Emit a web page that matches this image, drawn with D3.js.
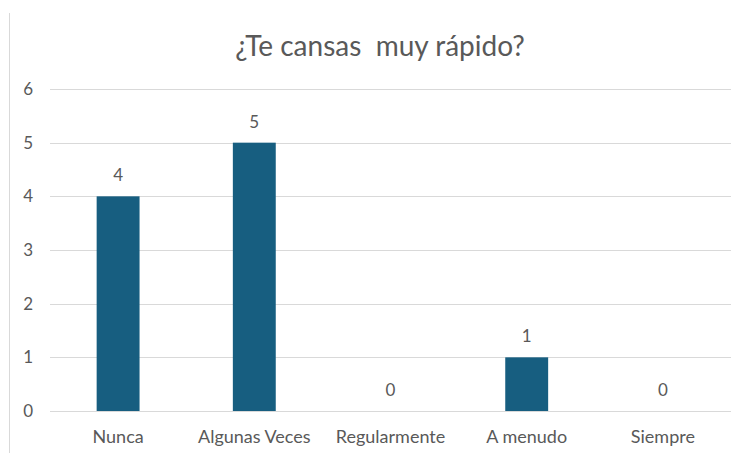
<!DOCTYPE html>
<html>
<head>
<meta charset="utf-8">
<script src="https://cdn.jsdelivr.net/npm/d3@7"></script>
<style>
  body { margin: 0; background: #fff; }
  text { font-family: Lato, "Open Sans", sans-serif; fill: #595959; }
</style>
</head>
<body>
<svg width="744" height="453"></svg>
<script>
var categories = ["Nunca", "Algunas Veces", "Regularmente", "A menudo", "Siempre"];
var values = [4, 5, 0, 1, 0];
var yTicks = [0, 1, 2, 3, 4, 5, 6];
var title = "¿Te cansas  muy rápido?";

var svg = d3.select("svg");

// chart border (only left edge visible in the picture)
svg.append("line")
    .attr("x1", 9.5).attr("x2", 9.5)
    .attr("y1", 13).attr("y2", 453)
    .attr("stroke", "#d9d9d9").attr("stroke-width", 1);

var plotLeft = 50, plotRight = 731, plotTop = 89, plotBottom = 411;

var x = d3.scaleBand().domain(categories).range([plotLeft, plotRight]).paddingInner(0.685).paddingOuter(0.3425);
var y = d3.scaleLinear().domain([0, 6]).range([plotBottom, plotTop]);

svg.append("text")
    .attr("x", 380).attr("y", 56)
    .attr("text-anchor", "middle")
    .attr("font-size", "28px")
    .style("white-space", "pre")
    .text(title);

// gridlines
svg.selectAll(".grid").data(yTicks).enter().append("line")
    .attr("class", "grid")
    .attr("x1", plotLeft).attr("x2", plotRight)
    .attr("y1", function(d){ return Math.round(y(d)) + 0.5; })
    .attr("y2", function(d){ return Math.round(y(d)) + 0.5; })
    .attr("stroke", "#d9d9d9");

// y tick labels
svg.selectAll(".ylab").data(yTicks).enter().append("text")
    .attr("class", "ylab")
    .attr("x", 33).attr("y", function(d){ return y(d); })
    .attr("dy", "0.36em")
    .attr("text-anchor", "end")
    .attr("font-size", "17px")
    .text(function(d){ return d; });

// bars
svg.selectAll(".bar").data(values).enter().append("rect")
    .attr("class", "bar")
    .attr("x", function(d, i){ return x(categories[i]); })
    .attr("y", function(d){ return y(d); })
    .attr("width", x.bandwidth())
    .attr("height", function(d){ return plotBottom - y(d); })
    .attr("fill", "#175e80");

// data labels
svg.selectAll(".vlab").data(values).enter().append("text")
    .attr("class", "vlab")
    .attr("x", function(d, i){ return x(categories[i]) + x.bandwidth() / 2; })
    .attr("y", function(d){ return y(d) - 15; })
    .attr("text-anchor", "middle")
    .attr("font-size", "17px")
    .text(function(d){ return d; });

// category labels
svg.selectAll(".xlab").data(categories).enter().append("text")
    .attr("class", "xlab")
    .attr("x", function(d){ return x(d) + x.bandwidth() / 2; })
    .attr("y", 443)
    .attr("text-anchor", "middle")
    .attr("font-size", "18px")
    .text(function(d){ return d; });
</script>
</body>
</html>
